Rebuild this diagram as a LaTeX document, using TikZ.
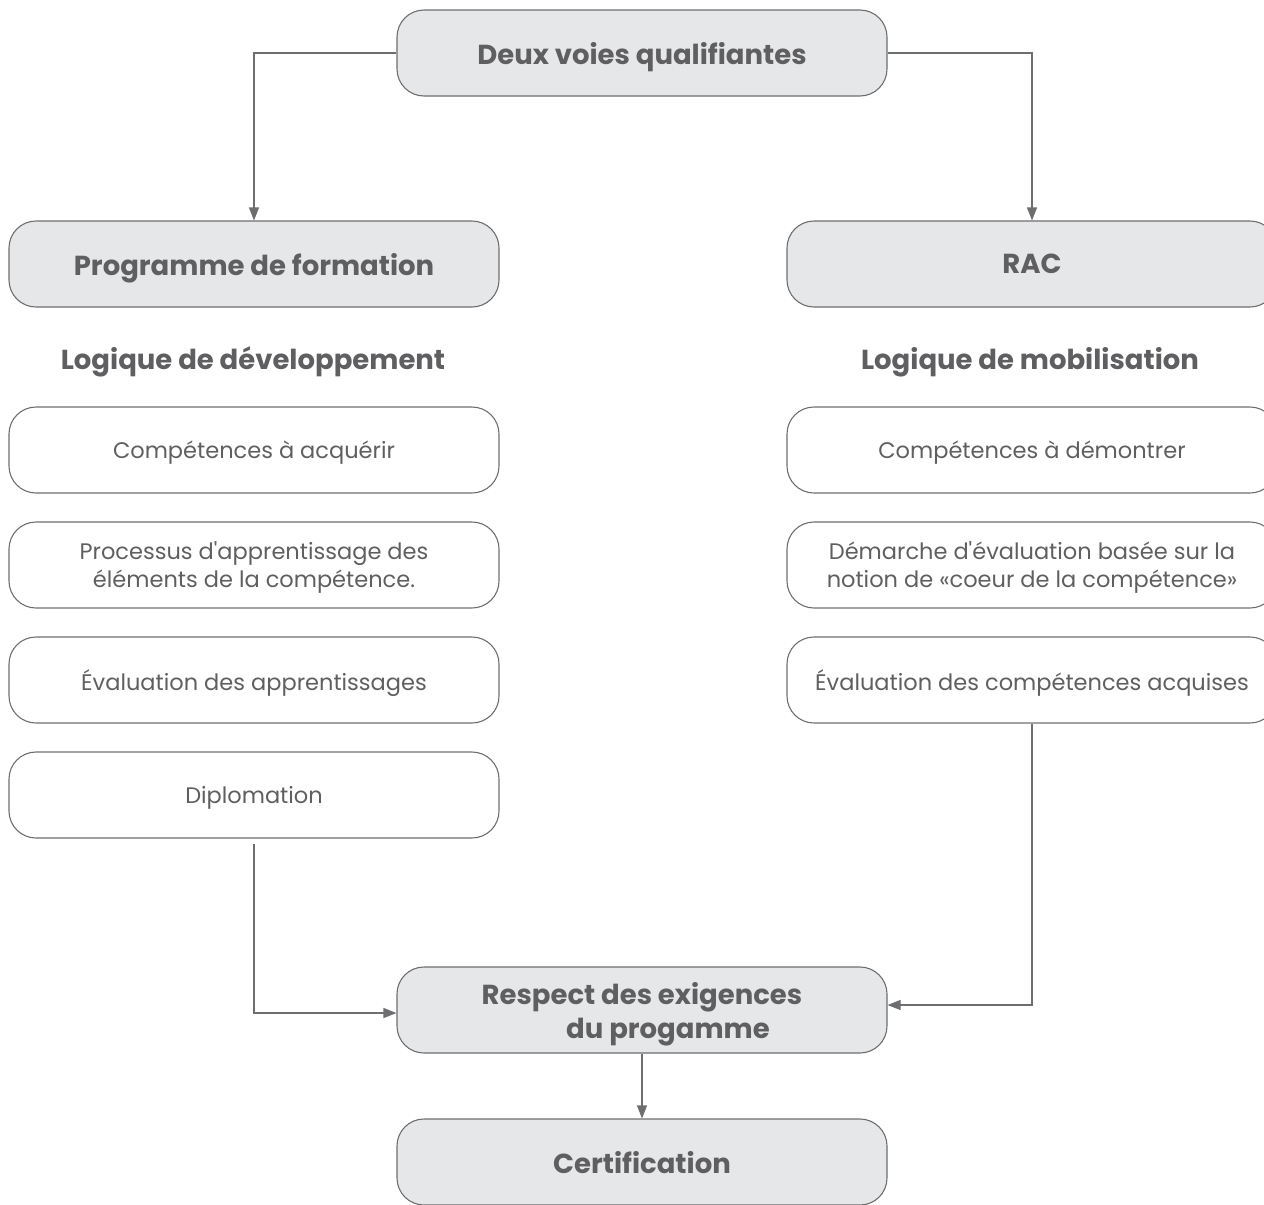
\documentclass[tikz,border=0pt]{standalone}
\usepackage{fontspec}
\setmainfont{Poppins}[Ligatures=TeXOff]
\usepackage{tikz}
\usetikzlibrary{arrows.meta,positioning}

\definecolor{txtgray}{HTML}{5F5F61}
\definecolor{linegray}{HTML}{6E6E70}
\definecolor{boxfill}{HTML}{E6E7E9}

\begin{document}
\begin{tikzpicture}[x=1pt,y=-1pt,
    every node/.style={text=txtgray},
    box/.style={draw=linegray, line width=1.1pt, rounded corners=27pt,
        minimum width=490pt, minimum height=86pt, align=center, text depth=0pt,
        font=\fontsize{22.5}{28}\selectfont},
    headbox/.style={box, fill=boxfill, font=\fontsize{27.5}{34}\selectfont\bfseries},
    heading/.style={font=\fontsize{27.5}{34}\selectfont\bfseries},
    arr/.style={draw=linegray, line width=1.1pt, -{Triangle[length=13pt,width=10pt]}}]
    \useasboundingbox (0,0) rectangle (1264,1205);
    % top
    \node[headbox] (voies) at (642,53) {Deux voies qualifiantes};
    % left column
    \node[headbox] (prog) at (254,264) {Programme de formation};
    \node[heading] (ldev) at (253,362) {Logique de développement};
    \node[box] (acq) at (254,450) {Compétences à acquérir};
    \node[box] (proc) at (254,565) {Processus d'apprentissage des\\éléments de la compétence.};
    \node[box] (evapp) at (254,680) {Évaluation des apprentissages};
    \node[box] (dipl) at (254,795) {Diplomation};
    % right column
    \node[headbox] (rac) at (1032,264) {RAC};
    \node[heading] (lmob) at (1030,362) {Logique de mobilisation};
    \node[box] (dem) at (1032,450) {Compétences à démontrer};
    \node[box] (demarche) at (1032,565) {Démarche d'évaluation basée sur la\\notion de «coeur de la compétence»};
    \node[box] (evacq) at (1032,680) {Évaluation des compétences acquises};
    % bottom
    \node[headbox] (resp) at (642,1010) {Respect des exigences\\\hspace*{52pt}du progamme};
    \node[headbox] (cert) at (642,1162) {Certification};
    % connectors
    \draw[arr] ([yshift=-5pt]dipl.south) |- ([yshift=-3pt]resp.west);
    \draw[arr] (voies.west) -| (prog.north);
    \draw[arr] (voies.east) -| (rac.north);
    \draw[arr] (evacq.south) |- ([yshift=5pt]resp.east);
    \draw[arr] (resp.south) -- (cert.north);
\end{tikzpicture}
\end{document}
